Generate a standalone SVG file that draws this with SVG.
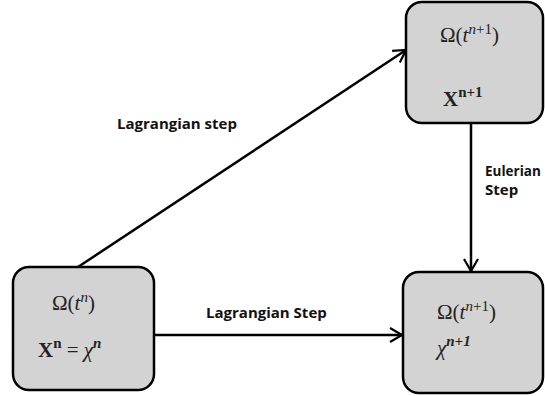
<svg xmlns="http://www.w3.org/2000/svg" width="545" height="396" viewBox="0 0 545 396">
<style>
.box{fill:#d3d3d3;stroke:#000;stroke-width:2.5}
.line{stroke:#000;stroke-width:2.5;fill:none}
.lbl{font-family:"Open Sans","Liberation Sans",sans-serif;font-weight:bold;font-size:15px;fill:#111}
.m{font-family:"Liberation Serif","DejaVu Serif",serif;font-size:21px;fill:#222}
.i{font-style:italic}
.b{font-weight:bold}
.sup{font-size:15px}
</style>
<defs>
<marker id="arr" markerWidth="16" markerHeight="16" refX="13" refY="8" orient="auto" markerUnits="userSpaceOnUse">
<path d="M1,1 L13,8 L1,15" fill="none" stroke="#000" stroke-width="2.2"/>
</marker>
</defs>
<g id="connectors">
<line class="line" x1="78" y1="267" x2="406" y2="50" marker-end="url(#arr)"/>
<line class="line" x1="154" y1="335" x2="402" y2="335" marker-end="url(#arr)"/>
<line class="line" x1="471" y1="123" x2="471" y2="271" marker-end="url(#arr)"/>
<text class="lbl" x="117" y="129">Lagrangian step</text>
<text class="lbl" x="206" y="318">Lagrangian Step</text>
<text class="lbl" x="485" y="176" style="font-size:13.5px">Eulerian</text>
<text class="lbl" x="485" y="195">Step</text>
</g>
<g id="node-top">
<rect class="box" x="406" y="2" width="137" height="121" rx="16"/>
<text class="m" x="440" y="42">Ω(<tspan class="i">t</tspan><tspan class="sup" dy="-8"><tspan class="i">n</tspan>+1</tspan><tspan dy="8">)</tspan></text>
<text class="m b" x="443" y="106">X<tspan class="sup" dy="-9">n+1</tspan></text>
</g>
<g id="node-bl">
<rect class="box" x="13" y="267" width="141" height="123" rx="16"/>
<text class="m" x="52" y="310">Ω(<tspan class="i">t</tspan><tspan class="sup i" dy="-8">n</tspan><tspan dy="8">)</tspan></text>
<text class="m" x="38" y="357"><tspan class="b">X</tspan><tspan class="sup b" dy="-9">n</tspan><tspan dy="9"> = </tspan><tspan class="i">χ</tspan><tspan class="sup i b" dy="-9">n</tspan></text>
</g>
<g id="node-br">
<rect class="box" x="403" y="272" width="140" height="121" rx="16"/>
<text class="m" x="437" y="319">Ω(<tspan class="i">t</tspan><tspan class="sup" dy="-8"><tspan class="i">n</tspan>+1</tspan><tspan dy="8">)</tspan></text>
<text class="m" x="437" y="355"><tspan class="i">χ</tspan><tspan class="sup i b" dy="-9">n+1</tspan></text>
</g>
</svg>
